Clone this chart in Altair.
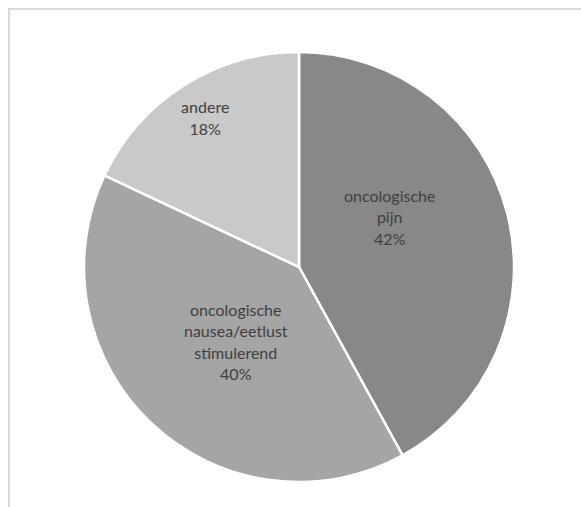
import altair as alt
import pandas as pd
import math

categories = ["oncologische pijn", "oncologische nausea/eetlust stimulerend", "andere"]
labels = ["oncologische\npijn\n42%", "oncologische\nnausea/eetlust\nstimulerend\n40%", "andere\n18%"]
values = [42, 40, 18]
order = [1, 2, 3]
colors = ["#888888", "#a5a5a5", "#c9c9c9"]

df = pd.DataFrame({"cat": categories, "label": labels, "value": values, "order": order})

CX, CY, R = 299, 267, 215
LH = 21.5

arc = alt.Chart(df).mark_arc(radius=R, stroke="white", strokeWidth=2.5).encode(
    theta=alt.Theta("value:Q", stack=True),
    order=alt.Order("order:Q"),
    color=alt.Color("cat:N", scale=alt.Scale(domain=categories, range=colors), legend=None),
    x=alt.value(CX),
    y=alt.value(CY),
)

text_base = alt.Chart(df).transform_window(
    cum="sum(value)", sort=[alt.SortField("order")]
).transform_joinaggregate(
    total="sum(value)"
).transform_calculate(
    mid="(datum.cum - datum.value / 2) / datum.total"
)

def lab(cat, nlines, radius, toff):
    return text_base.transform_filter(alt.datum.cat == cat).mark_text(
        radius=radius, thetaOffset=toff, lineBreak="\n", font="Lato", fontSize=16,
        lineHeight=LH, color="#404040", align="center", baseline="middle",
        dy=-(nlines - 1) * LH / 2,
    ).encode(
        theta=alt.Theta("mid:Q", stack=None, scale=alt.Scale(domain=[0, 1], range=[0, 2 * math.pi])),
        text="label:N", x=alt.value(CX), y=alt.value(CY),
    )

t1 = lab(categories[0], 3, 103, -0.243)
t2 = lab(categories[1], 4, 99, -0.061)
t3 = lab(categories[2], 2, 175, 0.0)

frame_top = alt.Chart(df).mark_rule(color="#d9d9d9", strokeWidth=2).encode(
    x=alt.value(8), x2=alt.value(581), y=alt.value(9)
)
frame_left = alt.Chart(df).mark_rule(color="#d9d9d9", strokeWidth=2).encode(
    x=alt.value(9), y=alt.value(8), y2=alt.value(507)
)

chart = alt.layer(frame_top, frame_left, arc, t1, t2, t3).resolve_scale(theta="independent").properties(
    width=581, height=507, padding=0, autosize=alt.AutoSizeParams(type="none"),
    background="white",
).configure_view(stroke=None)

chart.save("out.html", embed_options={"renderer": "svg", "actions": False})
